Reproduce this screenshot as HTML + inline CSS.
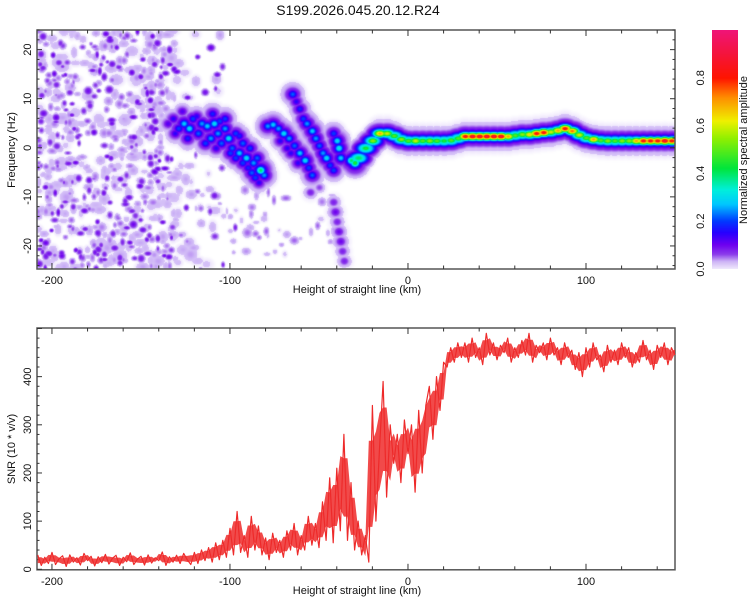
<!DOCTYPE html>
<html><head><meta charset="utf-8">
<style>
html,body{margin:0;padding:0;background:#fff;}
#wrap{position:relative;width:750px;height:600px;overflow:hidden;font-family:"Liberation Sans",sans-serif;}
canvas{position:absolute;}
svg{position:absolute;left:0;top:0;}
text{font-family:"Liberation Sans",sans-serif;fill:#111;}
</style></head>
<body>
<div id="wrap">
<canvas id="spec" width="638" height="239" style="left:37px;top:30px"></canvas>
<canvas id="cbar" width="26" height="239" style="left:712px;top:30px"></canvas>
<svg id="svg" width="750" height="600"></svg>
</div>
<script>
// ---------- data ----------
const bandKm   = [-28,-24,-20,-16,-12,-8,-4,0,4,8,12,16,20,24,28,32,36,40,44,48,52,56,60,64,68,72,76,80,84,88,92,96,100,104,108,112,116,120,124,128,132,136,140,144,148];
const bandFreq = [-2,0,1.5,3,3,2.5,1.8,1.5,1.5,1.5,1.5,1.5,1.5,1.6,2,2.4,2.4,2.4,2.4,2.4,2.4,2.4,2.6,2.8,2.8,3,3.2,3.3,3.6,4,3.5,2.7,2.1,1.8,1.6,1.5,1.5,1.5,1.5,1.5,1.5,1.5,1.5,1.5,1.5];
const bandAmp  = [0.4,0.45,0.55,0.7,0.6,0.5,0.55,0.5,0.6,0.5,0.55,0.5,0.45,0.5,0.5,0.85,0.9,0.9,0.9,0.9,0.9,0.7,0.5,0.55,0.65,0.85,0.85,0.6,0.7,0.85,0.75,0.6,0.5,0.7,0.5,0.55,0.5,0.55,0.55,0.7,0.85,0.85,0.85,0.9,0.85];
// streak blobs: [km, freq, amp]
const streakBlobs = [
[-135,5,0.12],[-132,6,0.15],[-129,4,0.2],[-126,5,0.28],[-123,4,0.3],[-121,6,0.2],[-118,3,0.22],[-116,5,0.25],[-113,4.5,0.28],[-111,2,0.25],[-109,5,0.3],[-107,3,0.25],[-105,1,0.22],[-103,4,0.25],[-101,2,0.3],[-99,0,0.22],[-97,3,0.2],[-95,-1,0.28],[-93,1,0.22],[-91,-2,0.3],[-89,0,0.2],[-87,-3,0.25],[-85,-2,0.22],[-83,-4.5,0.4],[-81,-5.5,0.25],[-97,-2,0.2],[-90,-4,0.18],[-86,-6,0.2],[-103,6,0.2],[-110,7,0.18],[-127,7.5,0.12],[-95,2.5,0.18],
[-131,3,0.15],[-124,2,0.18],[-119,6.5,0.15],[-114,1,0.2],[-106,5.5,0.2],[-100,-1,0.2],[-93,-3,0.2],[-88,-5,0.22],[-84,-7,0.15],[-108,0,0.15],
[-79,4.5,0.25],[-76,4.8,0.28],[-73,4,0.25],[-70,3,0.3],[-67,2,0.25],[-64,0.5,0.22],[-61,-1,0.28],[-58,-2.5,0.3],[-56,-4,0.2],[-54,-5.5,0.22],[-66,-1,0.15],[-62,-3,0.15],[-72,1.5,0.15],[-68,0,0.15],
[-65,11,0.22],[-63,9.5,0.15],[-61,8,0.18],[-59,6,0.2],[-57,5,0.25],[-54,3.5,0.28],[-52,2,0.25],[-50,0.5,0.22],[-48,-1,0.25],[-46,-2,0.3],[-44,-3.5,0.2],[-42,-4.5,0.2],
[-42,3,0.2],[-40,1.5,0.3],[-39,0,0.32],[-38,-2,0.28],
[-32,-2.5,0.4],[-30,-3,0.45],
[-42,-11,0.08],[-41,-13,0.1],[-40,-15,0.08],[-39,-17,0.1],[-38,-19,0.1],[-37,-21,0.08],[-36,-23,0.08],[-55,-9,0.08],[-50,-8,0.06]
];
const snrStartKm = -208, snrStepKm = 2;
const snr = [30,8,25,12,35,10,22,28,6,30,15,24,9,33,18,27,7,26,14,31,11,23,29,8,25,16,34,10,21,27,9,30,13,24,18,36,8,26,15,29,12,33,20,10,
35,12,40,18,45,15,55,20,60,25,85,
30,120,35,70,25,110,40,90,30,65,
20,75,35,60,25,80,40,95,30,70,
40,110,50,95,45,140,60,190,55,210,
80,280,60,180,40,
100,30,70,15,
340,100,250,390,150,300,
220,280,180,310,240,
300,160,330,200,340,
380,270,400,330,430,
420,460,430,470,440,
470,430,480,440,460,425,490,445,470,435,465,450,480,430,460,440,475,445,490,430,465,450,470,435,480,445,460,425,470,440,455,415,450,400,460,420,470,435,445,410,465,430,455,425,470,440,460,420,450,430,475,435,455,415,465,440,470,425,460,445];
const xTicks = [-200,-100,0,100];
const fTicks = [-20,-10,0,10,20];
const sTicks = [0,100,200,300,400];
const cTicks = [0,0.2,0.4,0.6,0.8];

// ---------- scales ----------
const X0=37,X1=675,KMIN=-208.4,KMAX=150;
const xs = k => X0 + (k-KMIN)/(KMAX-KMIN)*(X1-X0);
const T0=30,T1=269,FMIN=-24.7,FMAX=24;
const yf = f => T1 - (f-FMIN)/(FMAX-FMIN)*(T1-T0);
const B0=328,B1=569.3,SMAX=501;
const ys = v => B1 - v/SMAX*(B1-B0);

// ---------- colormap ----------
const stops=[[0,238,230,252],[0.03,205,180,246],[0.06,140,60,235],[0.1,110,0,240],[0.15,40,0,255],[0.2,0,60,255],[0.27,0,200,255],[0.33,0,240,220],[0.42,0,230,60],[0.55,150,240,0],[0.62,240,240,0],[0.72,255,140,0],[0.8,255,20,0],[0.9,245,20,60],[1,240,20,120]];
function cmap(v){
  if(v>1)v=1;
  for(let i=1;i<stops.length;i++){ if(v<=stops[i][0]){const a=stops[i-1],b=stops[i],t=(v-a[0])/(b[0]-a[0]);
    return [a[1]+(b[1]-a[1])*t,a[2]+(b[2]-a[2])*t,a[3]+(b[3]-a[3])*t];}}
  return stops[stops.length-1].slice(1);
}
// ---------- spectrogram ----------
const W=638,H=239,F=new Float32Array(W*H);
function blob(cx,cy,amp,sx,sy){
  const r1=Math.ceil(sx*3),r2=Math.ceil(sy*3);
  for(let y=Math.max(0,Math.floor(cy-r2));y<Math.min(H,cy+r2);y++)
  for(let x=Math.max(0,Math.floor(cx-r1));x<Math.min(W,cx+r1);x++){
    const dx=(x-cx)/sx,dy=(y-cy)/sy,v=amp*Math.exp(-0.5*(dx*dx+dy*dy));
    const i=y*W+x; if(v>F[i])F[i]=v;
  }
}
// background texture (seeded)
let seed=12345; const rnd=()=>{seed=(seed*16807)%2147483647;return seed/2147483647;};
for(let i=0;i<330;i++){
  let k=KMIN+rnd()*80; if(rnd()<0.12)k=-132+rnd()*28;
  const f=FMIN+rnd()*(FMAX-FMIN);
  blob(xs(k)-X0,yf(f)-T0,0.022+rnd()*0.014,3+rnd()*4,3+rnd()*3);
}
for(let i=0;i<180;i++){
  let k=KMIN+rnd()*78;
  const f=FMIN+rnd()*(FMAX-FMIN);
  blob(xs(k)-X0,yf(f)-T0,0.03+rnd()*0.02,2+rnd()*2,2+rnd()*2);
}
for(let i=0;i<300;i++){
  let k=KMIN+rnd()*76; if(rnd()<0.1)k=-132+rnd()*35;
  const f=FMIN+rnd()*(FMAX-FMIN);
  blob(xs(k)-X0,yf(f)-T0,0.045+rnd()*0.06,1.3+rnd()*1.6,1.3+rnd()*1.6);
}
for(let i=0;i<50;i++){
  const k=-120+rnd()*80,f=-22+rnd()*14;
  blob(xs(k)-X0,yf(f)-T0,0.022+rnd()*0.03,1.5+rnd()*2.5,1.5+rnd()*2.5);
}
streakBlobs.forEach(b=>{
  const cx=xs(b[0])-X0,cy=yf(b[1])-T0;
  blob(cx,cy,b[2]*0.3,8,8);
  blob(cx,cy,b[2]*0.6,5.5,5);
  blob(cx,cy,b[2],3.5,3.2);
});
bandKm.forEach((k,i)=>{
  const cx=xs(k)-X0,cy=yf(bandFreq[i])-T0;
  blob(cx,cy,0.05,9,11);
  blob(cx,cy,0.2,8,6);
  blob(cx,cy,0.4,7,4.2);
  blob(cx,cy,bandAmp[i],5,2.8);
});
const ctx=document.getElementById('spec').getContext('2d');
const img=ctx.createImageData(W,H);
for(let i=0;i<W*H;i++){
  const v=F[i];let c;
  if(v<0.008)c=[255,255,255];
  else if(v<0.02){const t=(v-0.008)/0.012,m=cmap(0);c=[255+(m[0]-255)*t,255+(m[1]-255)*t,255+(m[2]-255)*t];}
  else c=cmap(v);
  img.data[i*4]=c[0];img.data[i*4+1]=c[1];img.data[i*4+2]=c[2];img.data[i*4+3]=255;
}
ctx.putImageData(img,0,0);
const cb=document.getElementById('cbar').getContext('2d');
for(let y=0;y<239;y++){const c=cmap(1-y/238);cb.fillStyle=`rgb(${c[0]|0},${c[1]|0},${c[2]|0})`;cb.fillRect(0,y,26,1);}

// ---------- svg ----------
const NS='http://www.w3.org/2000/svg',svg=document.getElementById('svg');
function el(t,a,txt){const e=document.createElementNS(NS,t);for(const k in a)e.setAttribute(k,a[k]);if(txt!==undefined)e.textContent=txt;svg.appendChild(e);return e;}
function frame(top,bot,name){
  const g=el('rect',{x:X0,y:top,width:X1-X0,height:bot-top,fill:'none',stroke:'#555','stroke-width':1.5});
  
  
  for(let k=-200;k<=140;k+=20){const x=xs(k),L=(k%100===0)?6:3.5;
    el('line',{x1:x,y1:bot,x2:x,y2:bot-L,stroke:'#333'});el('line',{x1:x,y1:top,x2:x,y2:top+L,stroke:'#333'});}
  xTicks.forEach(k=>{const t=el('text',{x:xs(k),y:bot+15,'font-size':11,'text-anchor':'middle'},String(k));
    
    });
  const xl=el('text',{x:357,y:bot+24,'font-size':11,'text-anchor':'middle'},'Height of straight line (km)');
  
  
}
frame(T0,T1,'spectrogram-frame');
frame(B0,B1+0.5,'snr-frame');
for(let f=-24;f<=24;f+=2){const y=yf(f),L=(f%10===0)?5:2.5;
  el('line',{x1:X0,y1:y,x2:X0+L,y2:y,stroke:'#333'});el('line',{x1:X1,y1:y,x2:X1-L,y2:y,stroke:'#333'});}
fTicks.forEach(f=>{const t=el('text',{x:0,y:0,'font-size':11,'text-anchor':'middle',transform:`translate(31,${yf(f)}) rotate(-90)`},String(f));
  
  });
for(let s=0;s<=500;s+=20){const y=ys(s);if(y<B0)continue;const L=(s%100===0)?5:2.5;
  el('line',{x1:X0,y1:y,x2:X0+L,y2:y,stroke:'#333'});}
sTicks.forEach(s=>{const t=el('text',{x:0,y:0,'font-size':11,'text-anchor':'middle',transform:`translate(31,${ys(s)}) rotate(-90)`},String(s));
  
  });
const yl1=el('text',{x:0,y:0,'font-size':11,'text-anchor':'middle',transform:'translate(15,150) rotate(-90)'},'Frequency (Hz)');


const yl2=el('text',{x:0,y:0,'font-size':11,'text-anchor':'middle',transform:'translate(15,449) rotate(-90)'},'SNR (10 * v/v)');


const title=el('text',{x:358,y:15,'font-size':14,'text-anchor':'middle'},'S199.2026.045.20.12.R24');


const cy=v=>269-v*239;
cTicks.forEach(v=>{const t=el('text',{x:0,y:0,'font-size':11,'text-anchor':'middle',transform:`translate(704,${cy(v)}) rotate(-90)`},v.toFixed(1));
  
  });
const cl=el('text',{x:0,y:0,'font-size':11,'text-anchor':'middle',transform:'translate(747,150) rotate(-90)'},'Normalized spectral amplitude');


// snr band (running min/max of neighbours) + line
let up='',lo='';
for(let i=0;i<snr.length;i++){
  const a=snr.slice(Math.max(0,i-1),i+2),x=xs(snrStartKm+i*snrStepKm).toFixed(1);
  const mx=Math.max(...a),mn=Math.min(...a),mid=(mx+mn)/2,hi=mid+(mx-mid)*0.55,lw=mid-(mid-mn)*0.55;
  up+=(i?'L':'M')+x+' '+ys(hi).toFixed(1);
  lo='L'+x+' '+ys(lw).toFixed(1)+lo;
}
const band=el('path',{d:up+lo+'Z',fill:'#ee2a2a','fill-opacity':0.85,stroke:'none'});


let d='';snr.forEach((v,i)=>{const x=xs(snrStartKm+i*snrStepKm);d+=(i?'L':'M')+x.toFixed(1)+' '+ys(v).toFixed(1);});
const line=el('path',{d:d,fill:'none',stroke:'#ee2a2a','stroke-width':1.2,'stroke-linejoin':'round'});


</script>
</body></html>
